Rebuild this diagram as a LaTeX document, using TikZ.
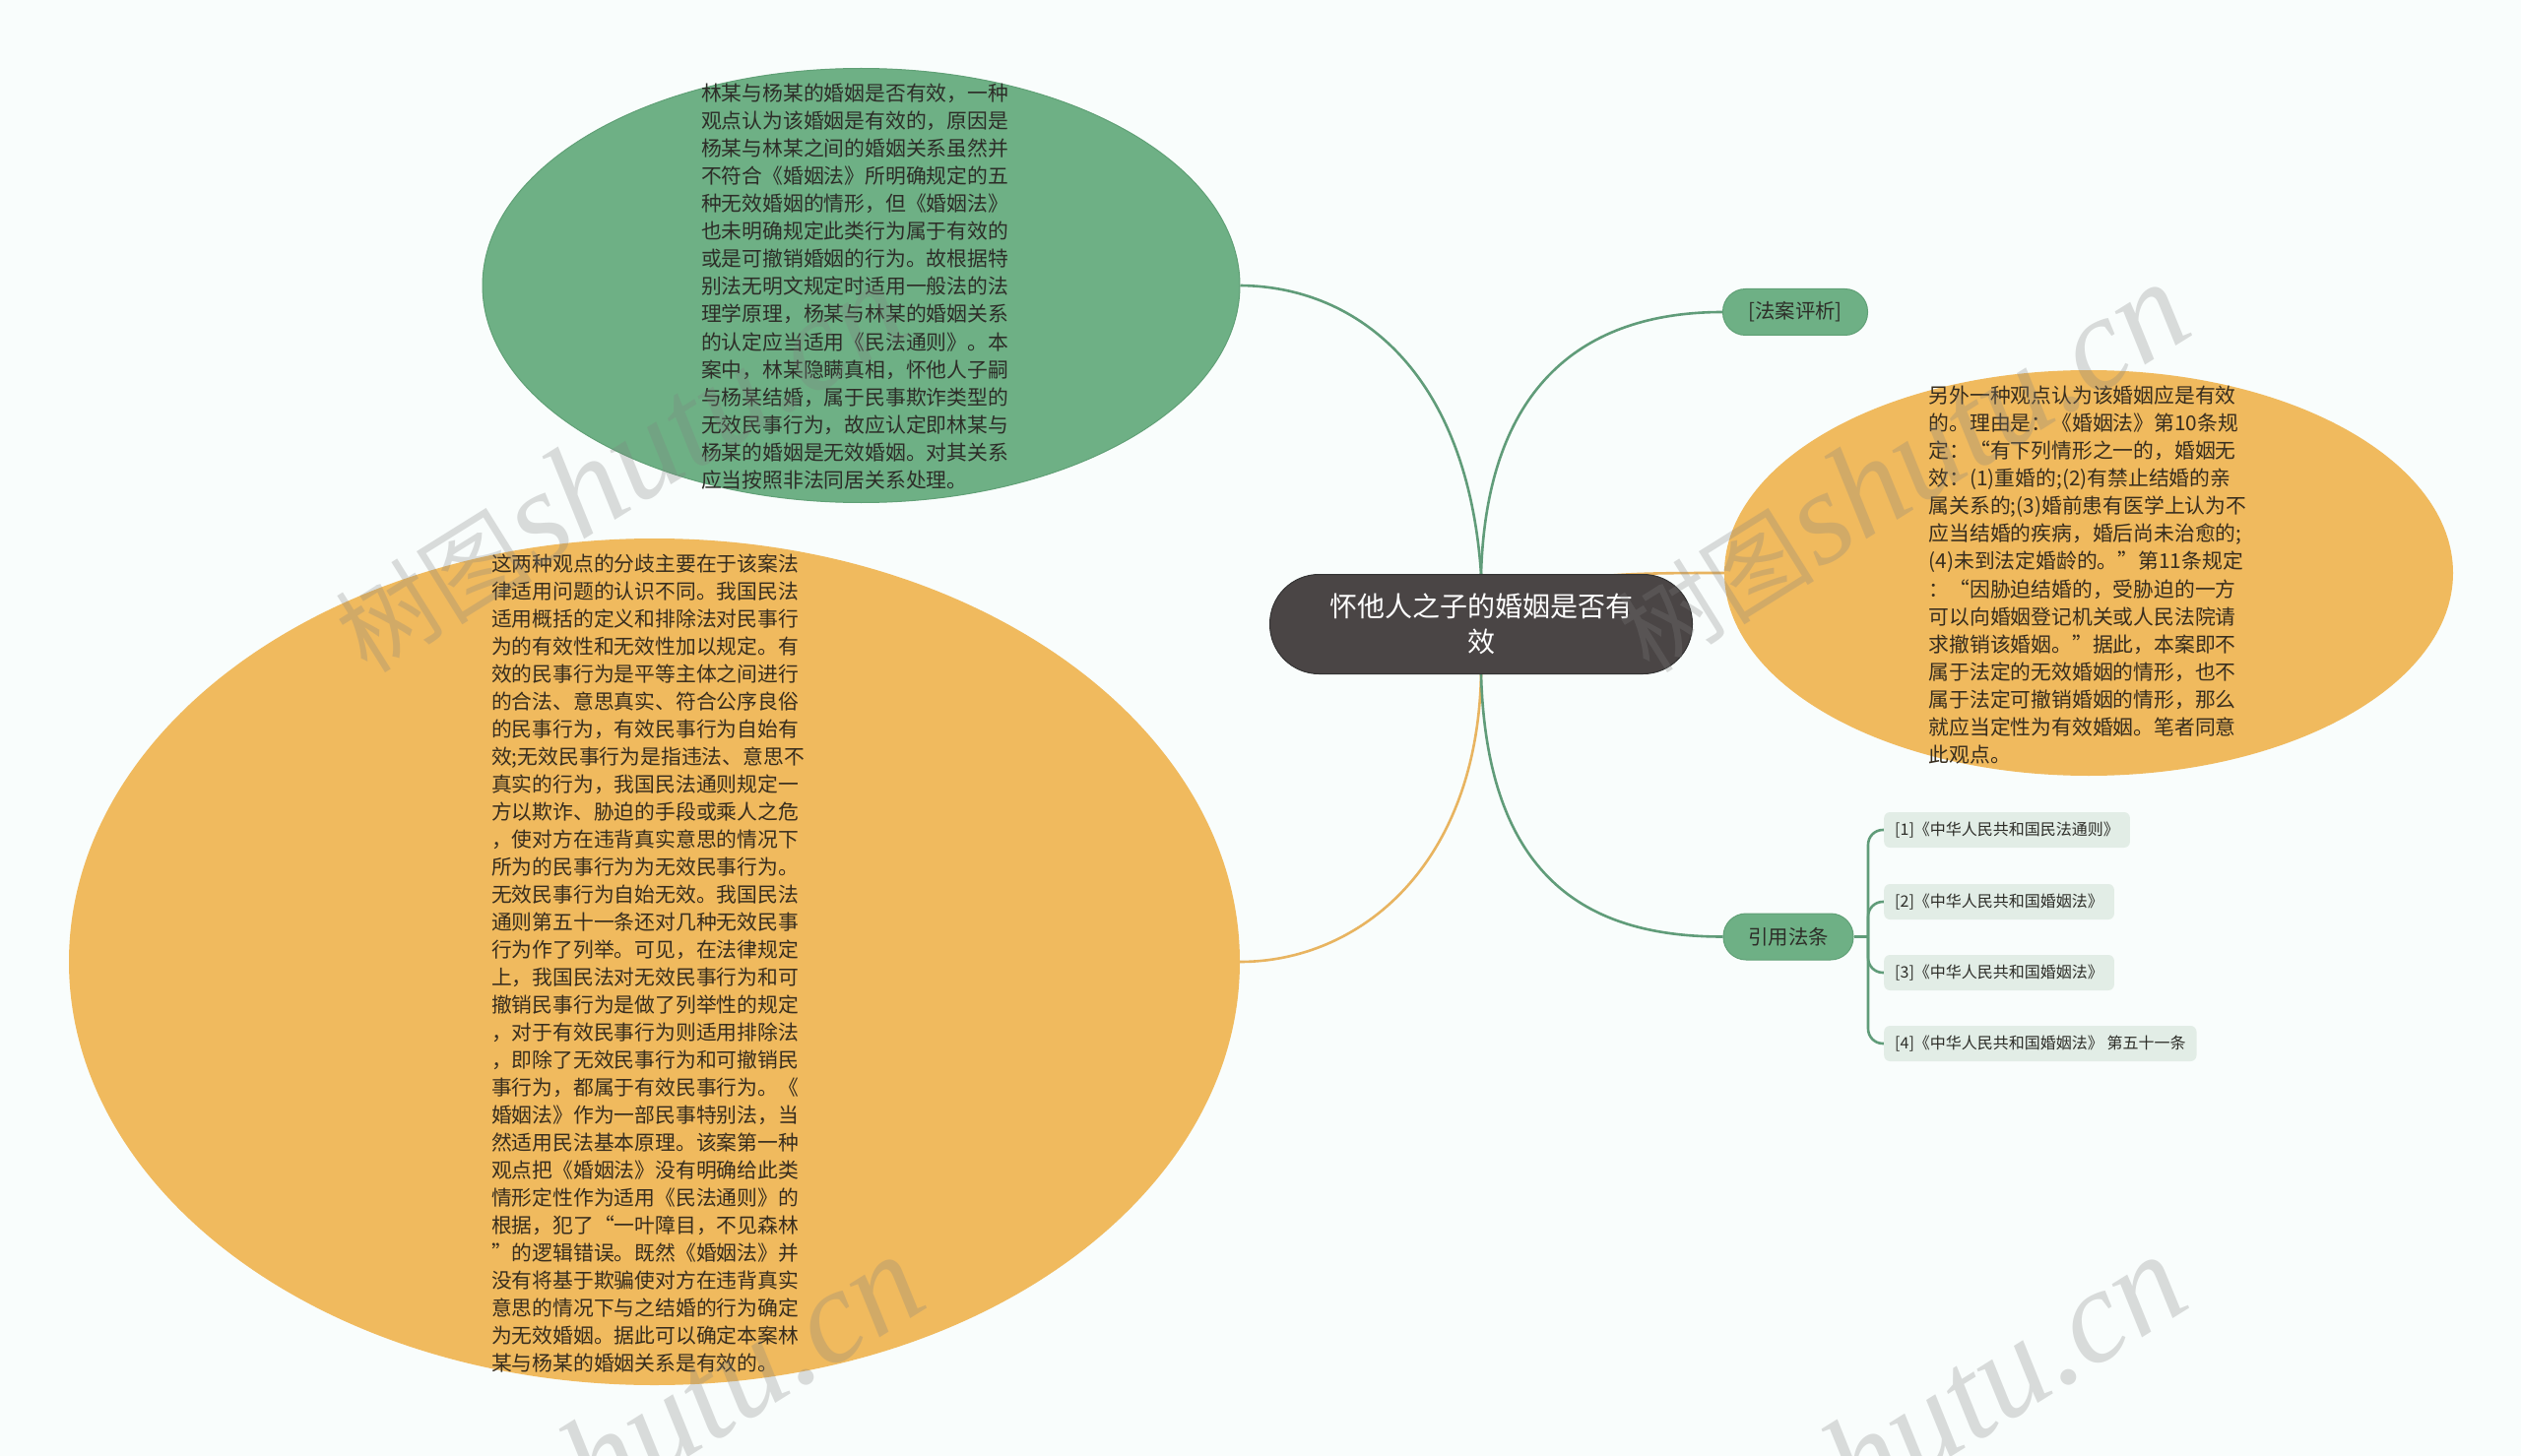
\documentclass[tikz,border=0pt]{standalone}
\usepackage{fontspec}
\setmainfont{Noto Sans CJK SC}
\newfontfamily\wmlatin{Liberation Serif}
\newfontfamily\wmcjk{Noto Sans CJK SC}
\usetikzlibrary{shapes.geometric}
\pgfdeclarelayer{background}
\pgfsetlayers{background,main}
\definecolor{bgc}{RGB}{249,253,252}
\definecolor{greenf}{RGB}{110,176,133}
\definecolor{greend}{RGB}{96,160,118}
\definecolor{orangef}{RGB}{240,186,94}
\definecolor{centerf}{RGB}{74,69,69}
\definecolor{reff}{RGB}{226,237,230}
\definecolor{lineg}{RGB}{96,156,121}
\definecolor{lineo}{RGB}{232,180,96}
\definecolor{txtdark}{RGB}{45,45,40}
\definecolor{txtbrown}{RGB}{55,45,30}
\definecolor{wmgray}{RGB}{128,128,128}
\tikzset{
  bubble/.style={ellipse, inner sep=0pt},
  para/.style={align=left, inner sep=0pt, font=\fontsize{20.8}{28.1}\selectfont},
  gline/.style={draw=lineg, line width=2.6pt},
  oline/.style={draw=lineo, line width=2.6pt},
  tagbox/.style={fill=greenf, draw=greend, line width=1pt, rounded corners=23pt, text=txtdark,
     font=\fontsize{20.4}{24}\selectfont, minimum height=47pt, inner sep=0pt},
  refbox/.style={fill=reff, rounded corners=6pt, text=txtdark, font=\fontsize{16}{20}\selectfont,
     minimum height=36pt, inner xsep=11pt, inner ysep=0pt, anchor=west},
  wm/.style={text=wmgray, opacity=0.27, anchor=base east, rotate=32, inner sep=0pt}
}
\begin{document}
\begin{tikzpicture}[x=1pt,y=-1pt]
\useasboundingbox (0,0) rectangle (2560,1479);
\begin{pgfonlayer}{background}
\fill[bgc] (0,0) rectangle (2560,1479);
\end{pgfonlayer}

% central
\node[fill=centerf, draw=black!80, line width=1pt, rounded corners=50pt, minimum width=429pt, minimum height=101pt,
      text=white, align=center, font=\fontsize{28}{36}\selectfont, inner sep=0pt] (c) at (1504,634)
      {怀他人之子的婚姻是否有\\效};

% top-left green bubble
\node[bubble, fill=greenf, draw=greend, line width=1pt, minimum width=769pt, minimum height=441pt] (g1) at (874.5,290) {};
\node[para, text=txtdark] (g1t) at (868,291) {林某与杨某的婚姻是否有效，一种\\
观点认为该婚姻是有效的，原因是\\
杨某与林某之间的婚姻关系虽然并\\
不符合《婚姻法》所明确规定的五\\
种无效婚姻的情形，但《婚姻法》\\
也未明确规定此类行为属于有效的\\
或是可撤销婚姻的行为。故根据特\\
别法无明文规定时适用一般法的法\\
理学原理，杨某与林某的婚姻关系\\
的认定应当适用《民法通则》。本\\
案中，林某隐瞒真相，怀他人子嗣\\
与杨某结婚，属于民事欺诈类型的\\
无效民事行为，故应认定即林某与\\
杨某的婚姻是无效婚姻。对其关系\\
应当按照非法同居关系处理。};

% left orange bubble
\node[bubble, fill=orangef, minimum width=1189pt, minimum height=860pt] (o1) at (664.5,977) {};
\node[para, text=txtbrown, font=\fontsize{20.8}{28}\selectfont] (o1t) at (658,979) {这两种观点的分歧主要在于该案法\\
律适用问题的认识不同。我国民法\\
适用概括的定义和排除法对民事行\\
为的有效性和无效性加以规定。有\\
效的民事行为是平等主体之间进行\\
的合法、意思真实、符合公序良俗\\
的民事行为，有效民事行为自始有\\
效;无效民事行为是指违法、意思不\\
真实的行为，我国民法通则规定一\\
方以欺诈、胁迫的手段或乘人之危\\
，使对方在违背真实意思的情况下\\
所为的民事行为为无效民事行为。\\
无效民事行为自始无效。我国民法\\
通则第五十一条还对几种无效民事\\
行为作了列举。可见，在法律规定\\
上，我国民法对无效民事行为和可\\
撤销民事行为是做了列举性的规定\\
，对于有效民事行为则适用排除法\\
，即除了无效民事行为和可撤销民\\
事行为，都属于有效民事行为。《\\
婚姻法》作为一部民事特别法，当\\
然适用民法基本原理。该案第一种\\
观点把《婚姻法》没有明确给此类\\
情形定性作为适用《民法通则》的\\
根据，犯了“一叶障目，不见森林\\
”的逻辑错误。既然《婚姻法》并\\
没有将基于欺骗使对方在违背真实\\
意思的情况下与之结婚的行为确定\\
为无效婚姻。据此可以确定本案林\\
某与杨某的婚姻关系是有效的。};

% right orange bubble
\node[bubble, fill=orangef, minimum width=740pt, minimum height=412pt] (o2) at (2121,582) {};
\node[para, text=txtbrown] (o2t) at (2120,584) {另外一种观点认为该婚姻应是有效\\
的。理由是：《婚姻法》第10条规\\
定：“有下列情形之一的，婚姻无\\
效：(1)重婚的;(2)有禁止结婚的亲\\
属关系的;(3)婚前患有医学上认为不\\
应当结婚的疾病，婚后尚未治愈的;\\
(4)未到法定婚龄的。”第11条规定\\
：“因胁迫结婚的，受胁迫的一方\\
可以向婚姻登记机关或人民法院请\\
求撤销该婚姻。”据此，本案即不\\
属于法定的无效婚姻的情形，也不\\
属于法定可撤销婚姻的情形，那么\\
就应当定性为有效婚姻。笔者同意\\
此观点。};

% tags
\node[tagbox, minimum width=147pt] (fa) at (1823,317) {[法案评析]};
\node[tagbox, minimum width=132pt] (yin) at (1816,951.5) {引用法条};

% references
\node[refbox] (r1) at (1913,843) {[1]《中华人民共和国民法通则》};
\node[refbox] (r2) at (1913,916) {[2]《中华人民共和国婚姻法》};
\node[refbox] (r3) at (1913,988) {[3]《中华人民共和国婚姻法》};
\node[refbox] (r4) at (1913,1060) {[4]《中华人民共和国婚姻法》 第五十一条};

\coordinate (tr) at (1897,951.5);

\begin{pgfonlayer}{background}
\draw[gline] (c.north) .. controls (1490,380) and (1380,291) .. (g1.east);
\draw[gline] (c.north) .. controls (1510,380) and (1620,317) .. (fa.west);
\draw[oline] (c.south) .. controls (1500,880) and (1380,977) .. (o1.east);
\draw[gline] (c.south) .. controls (1510,900) and (1620,951.5) .. (yin.west);
\draw[oline] (c.center) .. controls (1560,583) and (1620,582) .. (o2.west);
\draw[gline] (yin.east) -- (tr);
\draw[gline, rounded corners=15pt] (tr) |- (r1.west);
\draw[gline, rounded corners=15pt] (tr) |- (r2.west);
\draw[gline, rounded corners=15pt] (tr) |- (r3.west);
\draw[gline, rounded corners=15pt] (tr) |- (r4.west);
\end{pgfonlayer}

% watermarks
\node[wm] (w1) at (930,338) {{\wmcjk\fontsize{100}{110}\selectfont 树图} {\wmlatin\itshape\fontsize{135}{140}\selectfont shutu.cn}};
\node[wm] (w2) at (2232,338) {{\wmcjk\fontsize{100}{110}\selectfont 树图} {\wmlatin\itshape\fontsize{135}{140}\selectfont shutu.cn}};
\node[wm] (w3) at (947,1326) {{\wmcjk\fontsize{100}{110}\selectfont 树图} {\wmlatin\itshape\fontsize{135}{140}\selectfont shutu.cn}};
\node[wm] (w4) at (2229,1326) {{\wmcjk\fontsize{100}{110}\selectfont 树图} {\wmlatin\itshape\fontsize{135}{140}\selectfont shutu.cn}};
\end{tikzpicture}
\end{document}
